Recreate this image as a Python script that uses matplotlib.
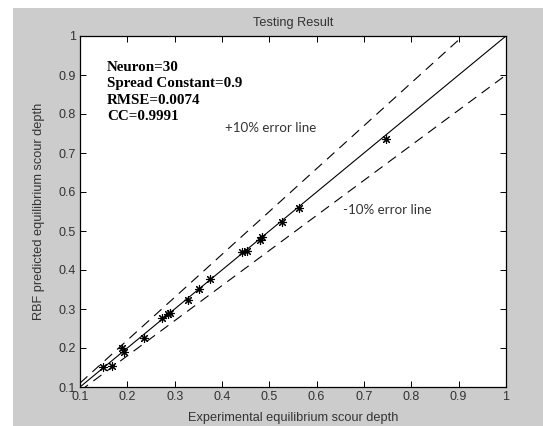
import matplotlib

matplotlib.use("Agg")

import matplotlib.pyplot as plt
import numpy as np
from matplotlib.patches import Rectangle

experimental = [0.149, 0.168, 0.189, 0.193, 0.235, 0.273, 0.286, 0.290, 0.328,
                0.351, 0.375, 0.442, 0.453, 0.481, 0.485, 0.527, 0.563, 0.747]
predicted = [0.151, 0.154, 0.200, 0.190, 0.226, 0.277, 0.287, 0.290, 0.323,
             0.351, 0.377, 0.446, 0.449, 0.477, 0.485, 0.523, 0.559, 0.736]

ticks = [0.1, 0.2, 0.3, 0.4, 0.5, 0.6, 0.7, 0.8, 0.9, 1.0]
tick_labels = ["0.1", "0.2", "0.3", "0.4", "0.5", "0.6", "0.7", "0.8", "0.9", "1"]
stats_text = "Neuron=30\nSpread Constant=0.9\nRMSE=0.0074\nCC=0.9991"

W, H = 543, 426
fig = plt.figure(figsize=(W / 100, H / 100), dpi=100, facecolor="white")
# grey MATLAB-style figure background, offset from the top-left corner
fig.patches.append(Rectangle((13 / W, 0), 1 - 13 / W, 1 - 8 / H,
                             transform=fig.transFigure, facecolor="#cccccc",
                             edgecolor="none", zorder=-10))

ax = fig.add_axes([80 / W, 1 - 387 / H, 426 / W, 351 / H])
ax.set_zorder(5)
ax.set_facecolor("white")

xs = np.array([0.1, 1.0])
ax.plot(xs, xs, color="black", lw=0.8)
ax.plot(xs, 1.1 * xs, color="black", lw=0.8, dashes=(9, 6))
ax.plot(xs, 0.9 * xs, color="black", lw=0.8, dashes=(9, 6))
ax.plot(experimental, predicted, linestyle="none", marker=(8, 2, 0),
        markersize=6.5, markeredgewidth=0.8, color="black")

ax.set_xlim(0.1, 1.0)
ax.set_ylim(0.1, 1.0)
ax.set_xticks(ticks)
ax.set_yticks(ticks)
tick_font = dict(family="Liberation Sans", size=9, color="#333333")
ax.set_xticklabels(tick_labels, **tick_font)
ax.set_yticklabels(tick_labels, **tick_font)
ax.tick_params(direction="in", length=4, width=0.7, top=True, right=True, pad=3)
for spine in ax.spines.values():
    spine.set_linewidth(0.9)

label_font = dict(family="Liberation Sans", size=9.2, color="#333333")
ax.set_title("Testing Result", pad=7, **label_font)
ax.set_xlabel("Experimental equilibrium scour depth", labelpad=6, **label_font)
ax.set_ylabel("RBF predicted equilibrium scour depth", labelpad=10, **label_font)

ax.text(0.157, 0.936, stats_text, family="Liberation Serif", weight="bold",
        size=10.8, va="top", ha="left", linespacing=1.35)
ax.text(0.502, 0.764, "+10% error line", family="Lato", size=9.6, color="#333333",
        ha="center", va="center")
ax.text(0.749, 0.554, "-10% error line", family="Lato", size=9.6, color="#333333",
        ha="center", va="center")

fig.savefig("out.png", dpi=100, facecolor="white")
